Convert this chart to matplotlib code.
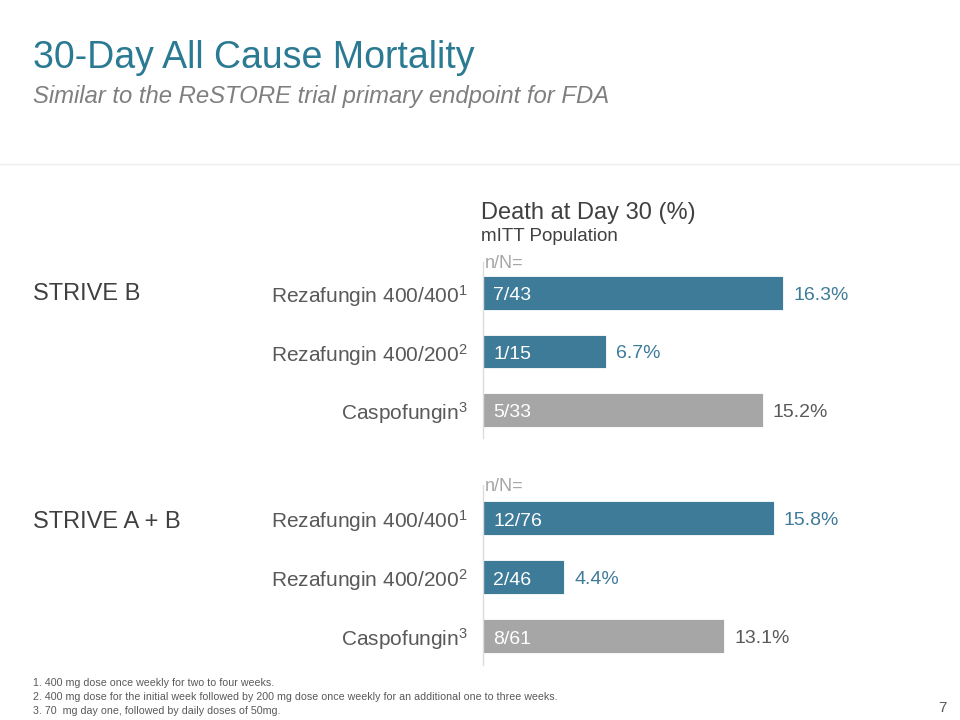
"""
30-day all cause mortality, STRIVE B and STRIVE A + B
"""

import matplotlib.pyplot as plt

plt.rcParams['font.family'] = ['Liberation Sans', 'DejaVu Sans']
plt.rcParams['mathtext.default'] = 'regular'

# data
groups = ['STRIVE B', 'STRIVE A + B']
arms = ['Rezafungin 400/400$^{1}$', 'Rezafungin 400/200$^{2}$', 'Caspofungin$^{3}$']
strive_b_pct = [16.3, 6.7, 15.2]
strive_b_nN = ['7/43', '1/15', '5/33']
strive_ab_pct = [15.8, 4.4, 13.1]
strive_ab_nN = ['12/76', '2/46', '8/61']
footnotes = [
    '1. 400 mg dose once weekly for two to four weeks.',
    '2. 400 mg dose for the initial week followed by 200 mg dose once weekly for an additional one to three weeks.',
    '3. 70  mg day one, followed by daily doses of 50mg.',
]

TEAL = '#3d7b99'
GREY_BAR = '#a6a6a6'
TITLE = '#2b7a93'
DARK = '#595959'

W, H = 960, 720
fig = plt.figure(figsize=(9.6, 7.2), dpi=100)


def px(x, y):
    return x / W, 1 - y / H


def draw_panel(top, bottom, pct, nN, ylim):
    ax = fig.add_axes([483 / W, 1 - bottom / H, (W - 483) / W, (bottom - top) / H])
    ypos = range(len(pct))
    colors = [TEAL, TEAL, GREY_BAR]
    ax.barh(ypos, pct, height=0.58, color=colors, edgecolor='white', linewidth=0.6)
    ax.set_xlim(0, (W - 483) / 18.4)
    ax.set_ylim(*ylim)
    ax.set_yticks(list(ypos))
    ax.set_yticklabels(arms, fontsize=15, color=DARK)
    ax.tick_params(axis='y', length=0, pad=11)
    ax.set_xticks([])
    for s in ['top', 'right', 'bottom']:
        ax.spines[s].set_visible(False)
    ax.spines['left'].set_color('#dcdcdc')
    ax.spines['left'].set_linewidth(1)
    for i, (v, lab) in enumerate(zip(pct, nN)):
        ax.text(0.55, i + 0.05, lab, color='white', fontsize=14, va='center', ha='left')
        ax.text(v + 0.55, i + 0.04, f'{v}%', color=colors[i] if i < 2 else DARK,
                fontsize=14, va='center', ha='left')
    ax.text(0.1, ylim[1] + 0.02, 'n/N=', color='#a6a6a6', fontsize=13, va='center', ha='left')
    return ax


draw_panel(262, 438, strive_b_pct, strive_b_nN, (2.48, -0.53))
draw_panel(485, 665, strive_ab_pct, strive_ab_nN, (2.49, -0.56))

# titles
fig.text(*px(33, 58), '30-Day All Cause Mortality', color=TITLE, fontsize=27, va='center')
fig.text(*px(33, 97), 'Similar to the ReSTORE trial primary endpoint for FDA', color='#7f7f7f',
         fontsize=17.2, style='italic', va='center')
fig.add_artist(plt.Line2D([0, 1], [1 - 164 / H] * 2, color='#eeeeee', lw=1))

fig.text(*px(481, 213), 'Death at Day 30 (%)', color='#404040', fontsize=17, va='center')
fig.text(*px(481, 237), 'mITT Population', color='#404040', fontsize=13.5, va='center')

fig.text(*px(33, 294), groups[0], color='#404040', fontsize=17, va='center')
fig.text(*px(33, 522), groups[1], color='#404040', fontsize=17, va='center')

for i, note in enumerate(footnotes):
    fig.text(*px(33, 683 + 14 * i), note, color=DARK, fontsize=7.7, va='center')
fig.text(*px(947, 708), '7', color=DARK, fontsize=11, va='center', ha='right')

plt.savefig('out.png', dpi=100)
plt.close()
